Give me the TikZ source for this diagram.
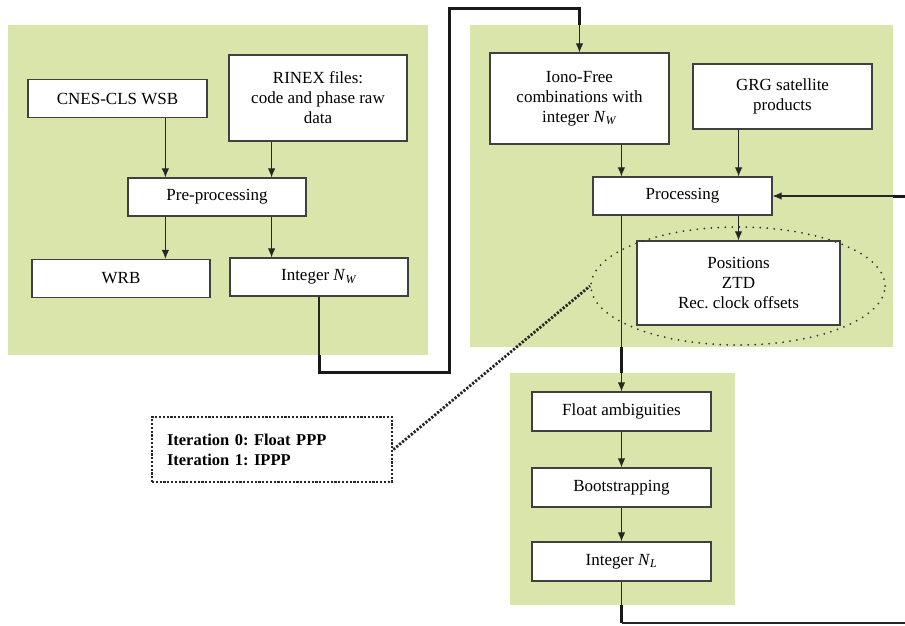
\documentclass[tikz,border=0pt]{standalone}
\usepackage{fontspec}
\setmainfont{Liberation Serif}
\usetikzlibrary{positioning,arrows.meta,shapes.geometric,calc}
\definecolor{panelgreen}{RGB}{218,229,172}
\frenchspacing

\begin{document}
\begin{tikzpicture}[x=1pt, y=-1pt,
  every node/.style={font=\fontsize{17}{20}\selectfont},
  panel/.style={fill=panelgreen, inner sep=0pt},
  box/.style  ={draw=black!75, line width=1.2pt, fill=white, align=center,
                minimum height=38, inner sep=2pt},
  note/.style ={draw=black!85, line width=2.8pt, dash pattern=on 2.2pt off 1.6pt,
                fill=white, align=left, text width=210, inner xsep=15pt,
                minimum height=65, font=\fontsize{16.5}{20}\selectfont\bfseries},
  halo/.style ={draw=black!80, ellipse, line width=2pt,
                dash pattern=on 0pt off 7pt, line cap=round, inner sep=0pt},
  arr/.style  ={-{Latex[length=9pt,width=7.5pt]}, line width=1.1pt, draw=black!85},
  wire/.style ={line width=1.1pt, draw=black!85},
  heavy/.style={line width=3pt, draw=black!90},
  link/.style ={draw=black!85, line width=2.8pt, dash pattern=on 2.2pt off 1.6pt}]

\useasboundingbox (0,0) rectangle (905,625);

%% Green panels
\node[panel, minimum width=420, minimum height=330] (leftP)  at (218,190)   {};
\node[panel, minimum width=423, minimum height=322] (rightP) at (681.5,186) {};
\node[panel, minimum width=225, minimum height=232] (botP)   at (622.5,489) {};

%% Left panel: pre-processing
\node[box, minimum width=179] (cnes)  at (117.5,98.5) {CNES-CLS WSB};
\node[box, minimum width=178, minimum height=86] (rinex) at (318,98)
      {RINEX files:\\code and phase raw\\data};
\node[box, minimum width=178] (pre)   at (217,197)   {Pre-processing};
\node[box, minimum width=178] (wrb)   at (121,278.5) {WRB};
\node[box, minimum width=178] (intW)  at (319,277)   {Integer \textit{N}\textsubscript{\textit{W}}};

%% Right panel: processing
\node[box, minimum width=179, minimum height=91] (iono) at (579.5,98.5)
      {Iono-Free\\combinations with\\integer \textit{N}\textsubscript{\textit{W}}};
\node[box, minimum width=179, minimum height=65] (grg)  at (782.5,96.5)
      {GRG satellite\\products};
\node[box, minimum width=179] (proc) at (682.5,196) {Processing};
\node[box, minimum width=203, minimum height=84] (pos) at (738.5,283)
      {Positions\\ZTD\\Rec. clock offsets};
\node[halo, minimum width=294, minimum height=118] (ring) at (738,286) {};

%% Bottom panel: ambiguity fixing
\node[box, minimum width=179, minimum height=39] (floatA) at (621.5,411.5) {Float ambiguities};
\node[box, minimum width=179, minimum height=39] (boot)   at (621.5,487.5) {Bootstrapping};
\node[box, minimum width=179, minimum height=39] (intL)   at (621.5,561.5) {Integer \textit{N}\textsubscript{\textit{L}}};

%% Iteration note
\node[note] (iter) at (272,449.5) {Iteration 0: Float PPP\\Iteration 1: IPPP};

%% Free ends of the loop (beyond the right edge)
\coordinate (jogL) at (449,372);
\coordinate (jogT) at (449,8);
\coordinate (fbOut) at (905,623);
\coordinate (fbIn)  at (905,196);

%% Left panel arrows
\draw[arr] ([xshift=38]pre.north west |- cnes.south)  -- ([xshift=38]pre.north west);
\draw[arr] ([xshift=-35]pre.north east |- rinex.south) -- ([xshift=-35]pre.north east);
\draw[arr] ([xshift=38]pre.south west)  -- ([xshift=38]pre.south west |- wrb.north);
\draw[arr] ([xshift=-35]pre.south east) -- ([xshift=-35]pre.south east |- intW.north);

%% Integer N_W -> Iono-Free
\draw[wire]  (intW.south) -- (intW.south |- leftP.south);
\draw[heavy] (intW.south |- leftP.south) |- (jogL) -- (jogT) -| (iono.north |- rightP.north);
\draw[arr]   (iono.north |- rightP.north) -- (iono.north);

%% Right panel arrows
\draw[arr] ([xshift=29]proc.north west |- iono.south) -- ([xshift=29]proc.north west);
\draw[arr] ([xshift=-34]proc.north east |- grg.south) -- ([xshift=-34]proc.north east);
\draw[arr] (pos.north |- proc.south) -- (pos.north);

%% Processing -> Float ambiguities
\draw[wire]  (floatA.north |- proc.south) -- (floatA.north |- rightP.south);
\draw[heavy] (floatA.north |- rightP.south) -- (floatA.north |- botP.north);
\draw[arr]   (floatA.north |- botP.north) -- (floatA.north);

%% Bottom panel arrows
\draw[arr] (floatA) -- (boot);
\draw[arr] (boot) -- (intL);

%% Feedback loop: Integer N_L -> Processing
\draw[wire]  (intL.south) -- (intL.south |- botP.south);
\draw[heavy] (intL.south |- botP.south) -- (intL.south |- fbOut);
\draw[wire]  (intL.south |- fbOut) -- (fbOut);
\draw[heavy] (fbIn) -- (fbIn -| rightP.east);
\draw[arr]   (fbIn -| rightP.east) -- (proc.east);

%% Note -> results
\draw[link] (iter.east) -- (ring.west);
\end{tikzpicture}
\end{document}
